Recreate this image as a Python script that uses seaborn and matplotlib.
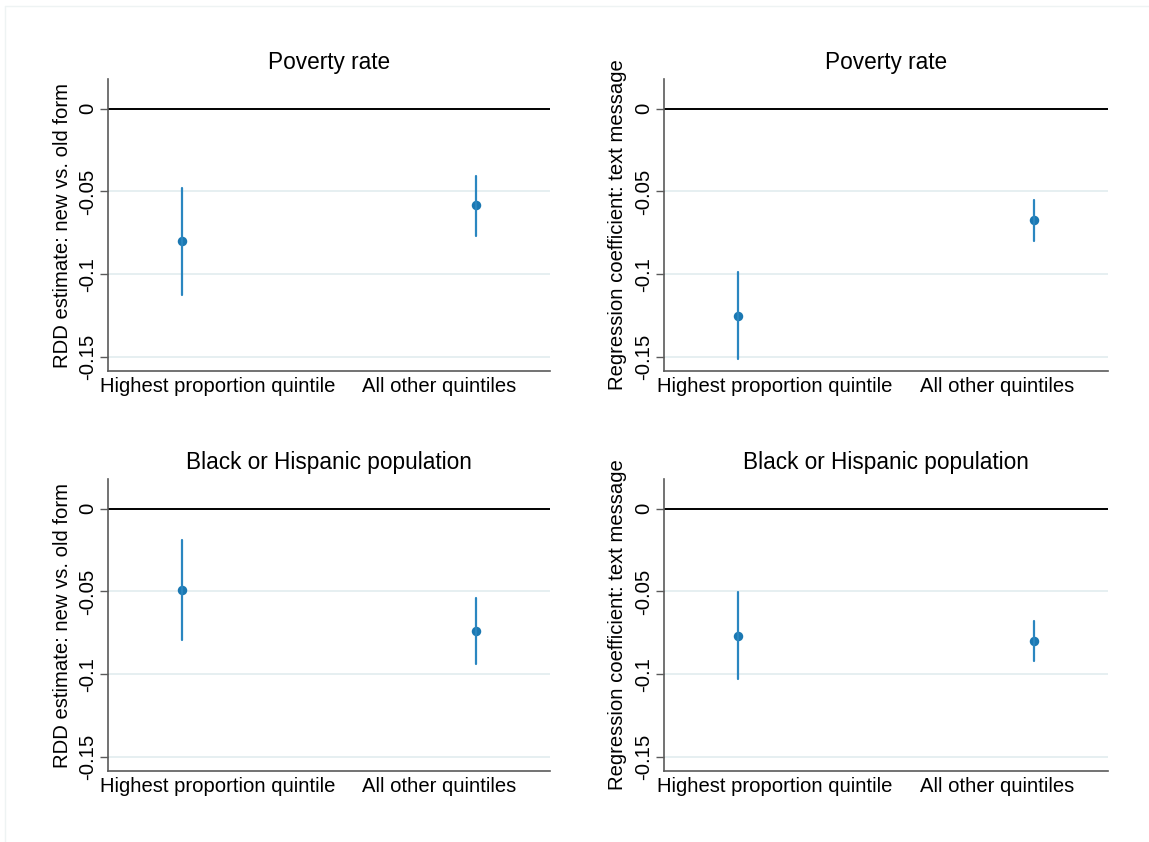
import numpy as np
import pandas as pd
import matplotlib
matplotlib.use("Agg")
import matplotlib.pyplot as plt
from matplotlib.lines import Line2D
from matplotlib.transforms import ScaledTranslation
import seaborn as sns

# Subgroup labels on the x axis
groups = ["Highest proportion quintile", "All other quintiles"]

# Panel titles and y-axis labels
row_titles = ["Poverty rate", "Black or Hispanic population"]
col_ylabels = ["RDD estimate: new vs. old form",
               "Regression coefficient: text message"]

# Point estimates and 95% confidence bounds, one list per panel
rdd_poverty_est = [-0.0802, -0.0584]
rdd_poverty_lo = [-0.1123, -0.0766]
rdd_poverty_hi = [-0.0481, -0.0404]

txt_poverty_est = [-0.1251, -0.0672]
txt_poverty_lo = [-0.1510, -0.0797]
txt_poverty_hi = [-0.0988, -0.0550]

rdd_race_est = [-0.0493, -0.0739]
rdd_race_lo = [-0.0796, -0.0939]
rdd_race_hi = [-0.0188, -0.0540]

txt_race_est = [-0.0768, -0.0798]
txt_race_lo = [-0.1030, -0.0923]
txt_race_hi = [-0.0504, -0.0677]

y_ticks = [0, -0.05, -0.1, -0.15]
y_tick_labels = ["0", "-0.05", "-0.1", "-0.15"]

panels = [
    [(rdd_poverty_est, rdd_poverty_lo, rdd_poverty_hi),
     (txt_poverty_est, txt_poverty_lo, txt_poverty_hi)],
    [(rdd_race_est, rdd_race_lo, rdd_race_hi),
     (txt_race_est, txt_race_lo, txt_race_hi)],
]

sns.set_theme(style="white")
plt.rcParams["font.family"] = ["Liberation Sans", "DejaVu Sans"]
plt.rcParams["text.color"] = "black"
plt.rcParams["axes.labelcolor"] = "black"
plt.rcParams["axes.titlecolor"] = "black"

W, H = 1149, 842
fig = plt.figure(figsize=(W / 100, H / 100), dpi=100)
fig.patch.set_facecolor("white")

blue = "#1b78b2"
spine_col = "#5a5a5a"
grid_col = "#e6eff1"
fs = 14.6

# axes boxes in pixel coordinates: (left, top, right, bottom)
lefts = [108, 664]
rights = [550, 1108]
tops = [79, 479]
bottoms = [371, 771]

# category labels are pulled inward from their points (inches)
label_shift = [0.365, -0.37]

for r in range(2):
    for c in range(2):
        l, t, rr, b = lefts[c], tops[r], rights[c], bottoms[r]
        ax = fig.add_axes([l / W, 1 - b / H, (rr - l) / W, (b - t) / H])
        est, lo, hi = panels[r][c]

        # long-form table: bounds and estimate per group; the median is the
        # estimate and the full percentile interval spans the confidence bounds
        df = pd.DataFrame({
            "group": np.repeat(groups, 3),
            "value": np.ravel(np.column_stack([lo, est, hi])),
        })

        for yv in y_ticks[1:]:
            ax.axhline(yv, color=grid_col, lw=1.4, zorder=0)
        ax.axhline(0, color="black", lw=1.4, zorder=1)

        sns.pointplot(data=df, x="group", y="value", order=groups,
                      estimator="median", errorbar=("pi", 100),
                      linestyle="none", marker="o", markersize=4.8,
                      color=blue, err_kws={"linewidth": 1.6, "color": "#2a86c0"},
                      ax=ax, zorder=3)

        ax.set_xlim(-0.25, 1.25)
        ax.set_ylim(-0.1585, 0.018)
        ax.set_yticks(y_ticks)
        ax.set_yticklabels(y_tick_labels, rotation=90, va="center",
                           fontsize=fs)
        ax.tick_params(axis="y", left=True, length=6, width=1,
                       color=spine_col, labelcolor="black", pad=1.8)
        ax.tick_params(axis="x", bottom=False, length=0, pad=4,
                       labelsize=fs, labelcolor="black")
        for lab, dx in zip(ax.get_xticklabels(), label_shift):
            lab.set_transform(lab.get_transform()
                              + ScaledTranslation(dx, 0, fig.dpi_scale_trans))
        for s in ["top", "right"]:
            ax.spines[s].set_visible(False)
        for s in ["left", "bottom"]:
            ax.spines[s].set_color(spine_col)
            ax.spines[s].set_linewidth(1.2)
        ax.set_xlabel("")
        ax.set_ylabel(col_ylabels[c], fontsize=fs)
        ax.yaxis.label.set_va("center")
        ax.yaxis.set_label_coords(-0.104, 0.5)
        ax.set_title(row_titles[r], fontsize=16.3, pad=7)

# faint outer frame along the top and left edges
fig.add_artist(Line2D([4.5 / W, 4.5 / W], [0, 1 - 6 / H],
                      transform=fig.transFigure, color="#eef3f3", lw=1))
fig.add_artist(Line2D([4.5 / W, 1], [1 - 6 / H, 1 - 6 / H],
                      transform=fig.transFigure, color="#eef3f3", lw=1))

fig.savefig("out.png", dpi=100, facecolor="white")
